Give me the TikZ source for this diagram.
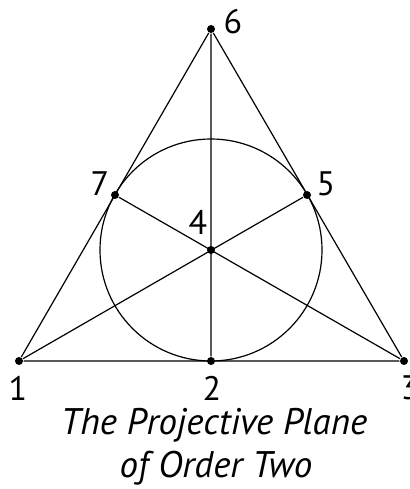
\documentclass[tikz,border=0pt]{standalone}
\usepackage{fontspec}
\setmainfont{PT Sans}
\usetikzlibrary{positioning}

\begin{document}
\begin{tikzpicture}[x=1pt, y=-1pt,
    pt/.style={circle, fill=black, inner sep=0pt, minimum size=8pt},
    num/.style={font=\fontsize{34}{34}\selectfont, inner sep=0pt},
    caption/.style={font=\fontsize{37}{37}\selectfont\itshape, inner sep=0pt, anchor=base},
    every path/.style={line width=1.2pt}]
  \useasboundingbox (0,0) rectangle (409,489);
  % points of the plane
  \node[pt] (p1) at (19,361) {};
  \node[pt] (p2) at (211,361) {};
  \node[pt] (p3) at (404,361) {};
  \node[pt] (p6) at (211,29) {};
  \node[pt] (p7) at (115,195) {};
  \node[pt] (p5) at (307,195) {};
  \node[pt] (p4) at (211,250) {};
  % lines
  \draw (p1)--(p3) (p3)--(p6) (p6)--(p1);
  \draw (p1)--(p5) (p3)--(p7) (p6)--(p2);
  \draw (p4) circle (111);
  % labels
  \node[num] (l6) at (233,22) {6};
  \node[num] (l7) at (100,184) {7};
  \node[num] (l5) at (326,184) {5};
  \node[num] (l4) at (198,222) {4};
  \node[num] (l1) at (18,388) {1};
  \node[num] (l2) at (212,388) {2};
  \node[num] (l3) at (410,388) {3};
  \node[caption] (title1) at (214,434) {The Projective Plane};
  \node[caption] (title2) at (216,477) {of Order Two};
\end{tikzpicture}
\end{document}
